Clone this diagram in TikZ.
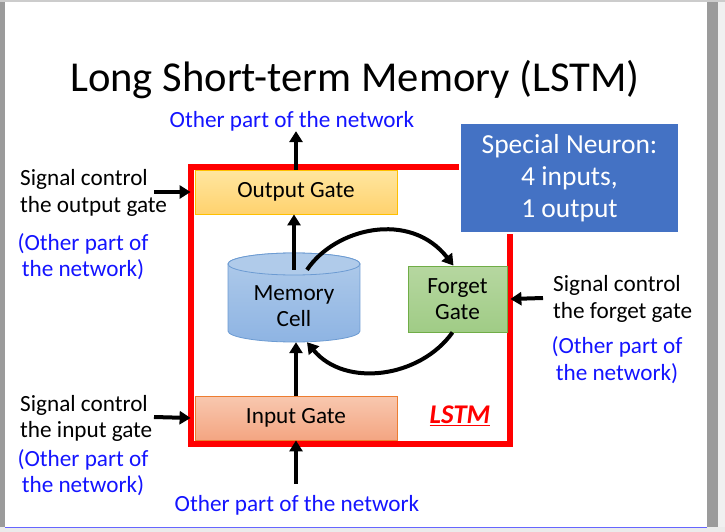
\documentclass[tikz,border=0pt]{standalone}
\usepackage{fontspec}
\setmainfont{Carlito}
\usetikzlibrary{arrows.meta, positioning}
\definecolor{netblue}{RGB}{20,20,255}
\definecolor{neuronblue}{RGB}{68,114,196}
\definecolor{outtop}{RGB}{255,230,160}
\definecolor{outbot}{RGB}{255,210,110}
\definecolor{outborder}{RGB}{255,192,0}
\definecolor{intop}{RGB}{248,200,175}
\definecolor{inbot}{RGB}{244,165,130}
\definecolor{inborder}{RGB}{237,125,49}
\definecolor{fgtop}{RGB}{182,215,160}
\definecolor{fgbot}{RGB}{160,204,134}
\definecolor{fgborder}{RGB}{112,173,71}
\definecolor{memtop}{RGB}{176,203,234}
\definecolor{membot}{RGB}{142,180,227}
\definecolor{memborder}{RGB}{108,155,210}
\definecolor{framegray}{RGB}{155,155,155}

\newcommand{\lblsize}{\fontsize{23.2}{26.5}\selectfont}

\tikzset{
  gatebox/.style={draw, line width=0.8pt, minimum width=202pt, minimum height=44pt,
                  inner sep=0pt, align=center, font=\lblsize},
  arr/.style={line width=4pt, -{Triangle[length=11pt,width=13pt]}},
  sigtext/.style={align=left, anchor=west, font=\lblsize, inner sep=0pt},
  nettext/.style={align=center, text=netblue, font=\lblsize, inner sep=0pt},
}

\begin{document}
\begin{tikzpicture}[x=1pt, y=-1pt]
    \useasboundingbox (0,0) rectangle (725,532);
    % window frame of the screenshot
    \fill[white] (0,0) rectangle (725,532);
    \fill[framegray] (0,0) rectangle (5,532);
    \fill[framegray] (707,0) rectangle (718,532);
    \fill[black!6] (718,0) rectangle (725,532);
    \fill[black!20] (0,0) rectangle (725,2);
    \fill[black!8] (0,527) rectangle (725,532);
    \draw[blue!60, line width=1pt] (5,527) -- (707,527);

    \node[font=\fontsize{42.6}{48}\selectfont] (title) at (355,80) {Long Short-term Memory (LSTM)};

    % the LSTM frame
    \draw[red, line width=5.5pt] (191,167) rectangle (510,444);

    \node[draw=white, line width=2.5pt, fill=neuronblue, text=white, minimum width=219pt,
          minimum height=110pt, align=center, font=\fontsize{27.5}{32}\selectfont]
          (neuron) at (569.5,178) {Special Neuron:\\4 inputs,\\1 output};

    \node[gatebox, draw=outborder, top color=outtop, bottom color=outbot] (outg) at (296,192) {Output Gate};
    \node[gatebox, draw=inborder, top color=intop, bottom color=inbot] (ing) at (296,418) {Input Gate};
    \node[gatebox, draw=fgborder, top color=fgtop, bottom color=fgbot,
          minimum width=99pt, minimum height=66pt] (fg) at (457.5,299) {Forget\\Gate};

    % memory cell as a cylinder
    \draw[memborder, line width=0.8pt, top color=memtop, bottom color=membot]
        (228,264) -- (228,331) arc[start angle=180, end angle=0, x radius=66, y radius=11]
        -- (360,264) arc[start angle=0, end angle=-180, x radius=66, y radius=11] -- cycle;
    \draw[memborder, line width=0.8pt, fill=memtop] (294,264) ellipse[x radius=66, y radius=11];
    \node[align=center, font=\lblsize, minimum width=132pt, minimum height=72pt, inner sep=0pt]
          (mem) at (294,306) {Memory\\Cell};

    \node[nettext] (toptxt) at (292,121) {Other part of the network};
    \node[nettext] (bottxt) at (297,505) {Other part of the network};

    \node[sigtext] (sigo) at (20,193) {Signal control\\the output gate};
    \node[nettext] (neto) at (83,256.5) {(Other part of\\the network)};
    \node[sigtext] (sigi) at (20,418.5) {Signal control\\the input gate};
    \node[nettext] (neti) at (83,472.5) {(Other part of\\the network)};
    \node[sigtext] (sigf) at (553,299) {Signal control\\the forget gate};
    \node[nettext] (netf) at (617,360) {(Other part of\\the network)};

    \node[text=red, font=\fontsize{27}{30}\selectfont\bfseries\itshape] (lstm) at (460,416) {\underline{LSTM}};

    % connections
    \draw[arr] (mem.north) -- (mem.north |- outg.south);
    \draw[arr] (ing.north) -- (ing.north |- mem.south);
    \draw[arr] (outg.north) -- (outg.north |- toptxt.south);
    \draw[arr, shorten <=11pt] (ing.south |- bottxt.north) -- (ing.south);

    \coordinate (sigoend) at (154,192);
    \coordinate (sigiend) at (154,417);
    \coordinate (sigfend) at (543,298);
    \draw[arr] (sigoend) -- ([xshift=-4pt]outg.west);
    \draw[arr] (sigiend) -- ([xshift=-4pt]ing.west);
    \draw[arr] (sigfend) -- ([xshift=3pt]fg.east);

    \draw[arr] ([xshift=13pt]mem.north) .. controls (335,228) and (410,210) .. ([xshift=-4pt]fg.north);
    \draw[arr] ([xshift=-5pt]fg.south) .. controls (420,378) and (345,388) .. ([xshift=13pt]mem.south);
\end{tikzpicture}
\end{document}
